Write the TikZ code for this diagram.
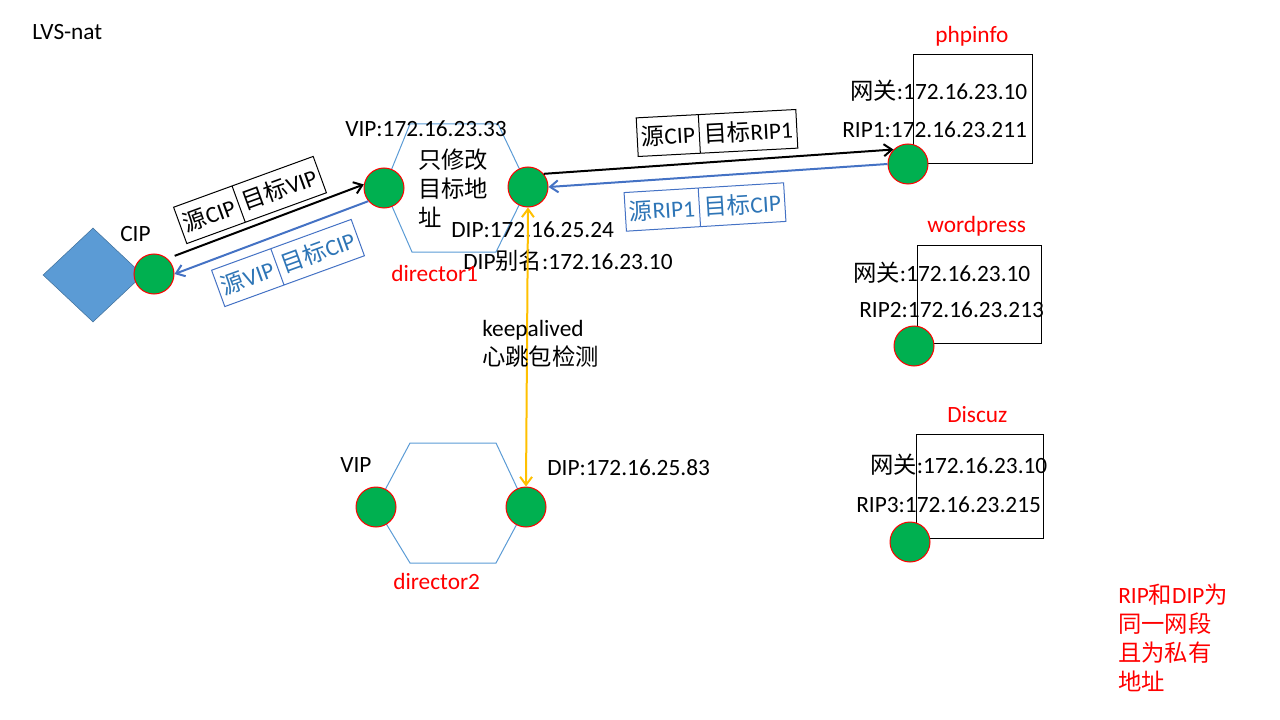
\documentclass[tikz,border=0pt]{standalone}
\usepackage{fontspec}
\setmainfont{Carlito}
\newfontfamily\zh{Noto Sans CJK SC}
\usetikzlibrary{arrows.meta,shapes.geometric,shapes.multipart}
\definecolor{hostgreen}{HTML}{00B050}
\definecolor{hexblue}{HTML}{5B9BD5}
\definecolor{diaborder}{HTML}{41719C}
\definecolor{lineblue}{HTML}{4472C4}
\definecolor{textblue}{HTML}{2E75B6}
\definecolor{beat}{HTML}{FFC000}

\begin{document}
\begin{tikzpicture}[x=0.75pt,y=-0.75pt]
\tikzstyle{every node}=[font=\fontsize{17.5}{21.75}\selectfont];
\tikzstyle{host}=[draw=red,fill=hostgreen,circle,minimum size=30pt,inner sep=0pt,line width=0.75pt];
\tikzstyle{hexa}=[draw=hexblue,line width=0.75pt];
\tikzstyle{lbl}=[inner sep=0pt,anchor=west,align=left];
\tikzstyle{tag}=[lbl,text=red];
\tikzstyle{srv}=[draw,line width=0.75pt,inner sep=0pt];
\tikzstyle{pkt}=[draw,line width=0.75pt,rectangle split,rectangle split horizontal,rectangle split parts=2,minimum height=29pt,inner xsep=3pt,inner ysep=2pt];
\tikzstyle{pktback}=[pkt,draw=lineblue,text=textblue];
\tikzstyle{fwd}=[-{Straight Barb[length=6pt,width=9pt]},line width=1.5pt];
\tikzstyle{ret}=[fwd,draw=lineblue];
\useasboundingbox (0,0) rectangle (1280,720);

\node[lbl] (title) at (32,32) {LVS-nat};

% client
\node[diamond,fill=hexblue,draw=diaborder,minimum width=75pt,minimum height=70.5pt,inner sep=0pt] (client) at (93,275) {};
\node[host] (cip) at (154,274) {};
\node[lbl] (ciplbl) at (120,234) {CIP};

% director1
\coordinate (d1l) at (384,188);
\coordinate (d1r) at (528,187);
\draw[hexa] (d1l) -- (410,124) -- (498,124) -- (d1r) -- (496,252) -- (412,252) -- cycle;
\node[host] (d1vip) at (d1l) {};
\node[host] (d1dip) at (d1r) {};
\node[lbl] (d1viplbl) at (345,129) {VIP:172.16.23.33};
\node[lbl] (d1note) at (418,188) {\zh 只修改\\\zh 目标地\\\zh 址};
\node[lbl] (d1diplbl) at (451,230) {DIP:172.16.25.24};
\node[lbl] (d1alias) at (463,261) {DIP{\zh 别名}:172.16.23.10};
\node[tag] (d1name) at (391,273) {director1};

% director2
\coordinate (d2l) at (376,507);
\coordinate (d2r) at (526,507);
\draw[hexa] (d2l) -- (410,443) -- (496,443) -- (d2r) -- (496,563) -- (410,563) -- cycle;
\node[host] (d2vip) at (d2l) {};
\node[host] (d2dip) at (d2r) {};
\node[lbl] (d2viplbl) at (340,465) {VIP};
\node[lbl] (d2diplbl) at (547,468) {DIP:172.16.25.83};
\node[tag] (d2name) at (393,581) {director2};

% real servers
\node[srv,minimum width=89.25pt,minimum height=81.75pt] (phpbox) at (972.5,109.5) {};
\node[host] (rs1) at (908,164) {};
\node[tag] (phpname) at (935,36) {phpinfo};
\node[lbl] (rs1gw) at (850,91) {{\zh 网关}:172.16.23.10};
\node[lbl] (rs1ip) at (842,130) {RIP1:172.16.23.211};

\node[srv,minimum width=93pt,minimum height=73.5pt] (wpbox) at (979,294) {};
\node[host] (rs2) at (914,346) {};
\node[tag] (wpname) at (927,226) {wordpress};
\node[lbl] (rs2gw) at (853,273) {{\zh 网关}:172.16.23.10};
\node[lbl] (rs2ip) at (859,310) {RIP2:172.16.23.213};

\node[srv,minimum width=95.25pt,minimum height=78pt] (dzbox) at (979.5,486) {};
\node[host] (rs3) at (910,542) {};
\node[tag] (dzname) at (947,415) {Discuz};
\node[lbl] (rs3gw) at (870,465) {{\zh 网关}:172.16.23.10};
\node[lbl] (rs3ip) at (856,505) {RIP3:172.16.23.215};

% packets
\node[pkt,rotate=20] (pkt1) at (250,200) {{\zh 源}CIP\nodepart{two}{\zh 目标}VIP};
\node[pktback,rotate=20] (pkt2) at (288,263) {{\zh 源}VIP\nodepart{two}{\zh 目标}CIP};
\node[pkt,rotate=3] (pkt3) at (717,133) {{\zh 源}CIP\nodepart{two}{\zh 目标}RIP1};
\node[pktback,rotate=3.5] (pkt4) at (705,207) {{\zh 源}RIP1\nodepart{two}{\zh 目标}CIP};

\draw[fwd] ([shift={(5,-5)}]cip.40) -- (d1vip.170);
\draw[ret] (d1vip.220) -- (cip.east);
\draw[fwd] (d1dip.40) -- (rs1.135);
\draw[ret] (rs1.west) -- (d1dip.east);
\draw[{Straight Barb[length=6pt,width=9pt]}-{Straight Barb[length=6pt,width=9pt]},draw=beat,line width=1.5pt] (d1dip.south) -- (d2dip.north);

\node[lbl] (hb) at (482,344) {keepalived\\\zh 心跳包检测};
\node[lbl,text=red] (remark) at (1118,638) {RIP{\zh 和}DIP{\zh 为}\\\zh 同一网段\\\zh 且为私有\\\zh 地址};
\end{tikzpicture}
\end{document}
